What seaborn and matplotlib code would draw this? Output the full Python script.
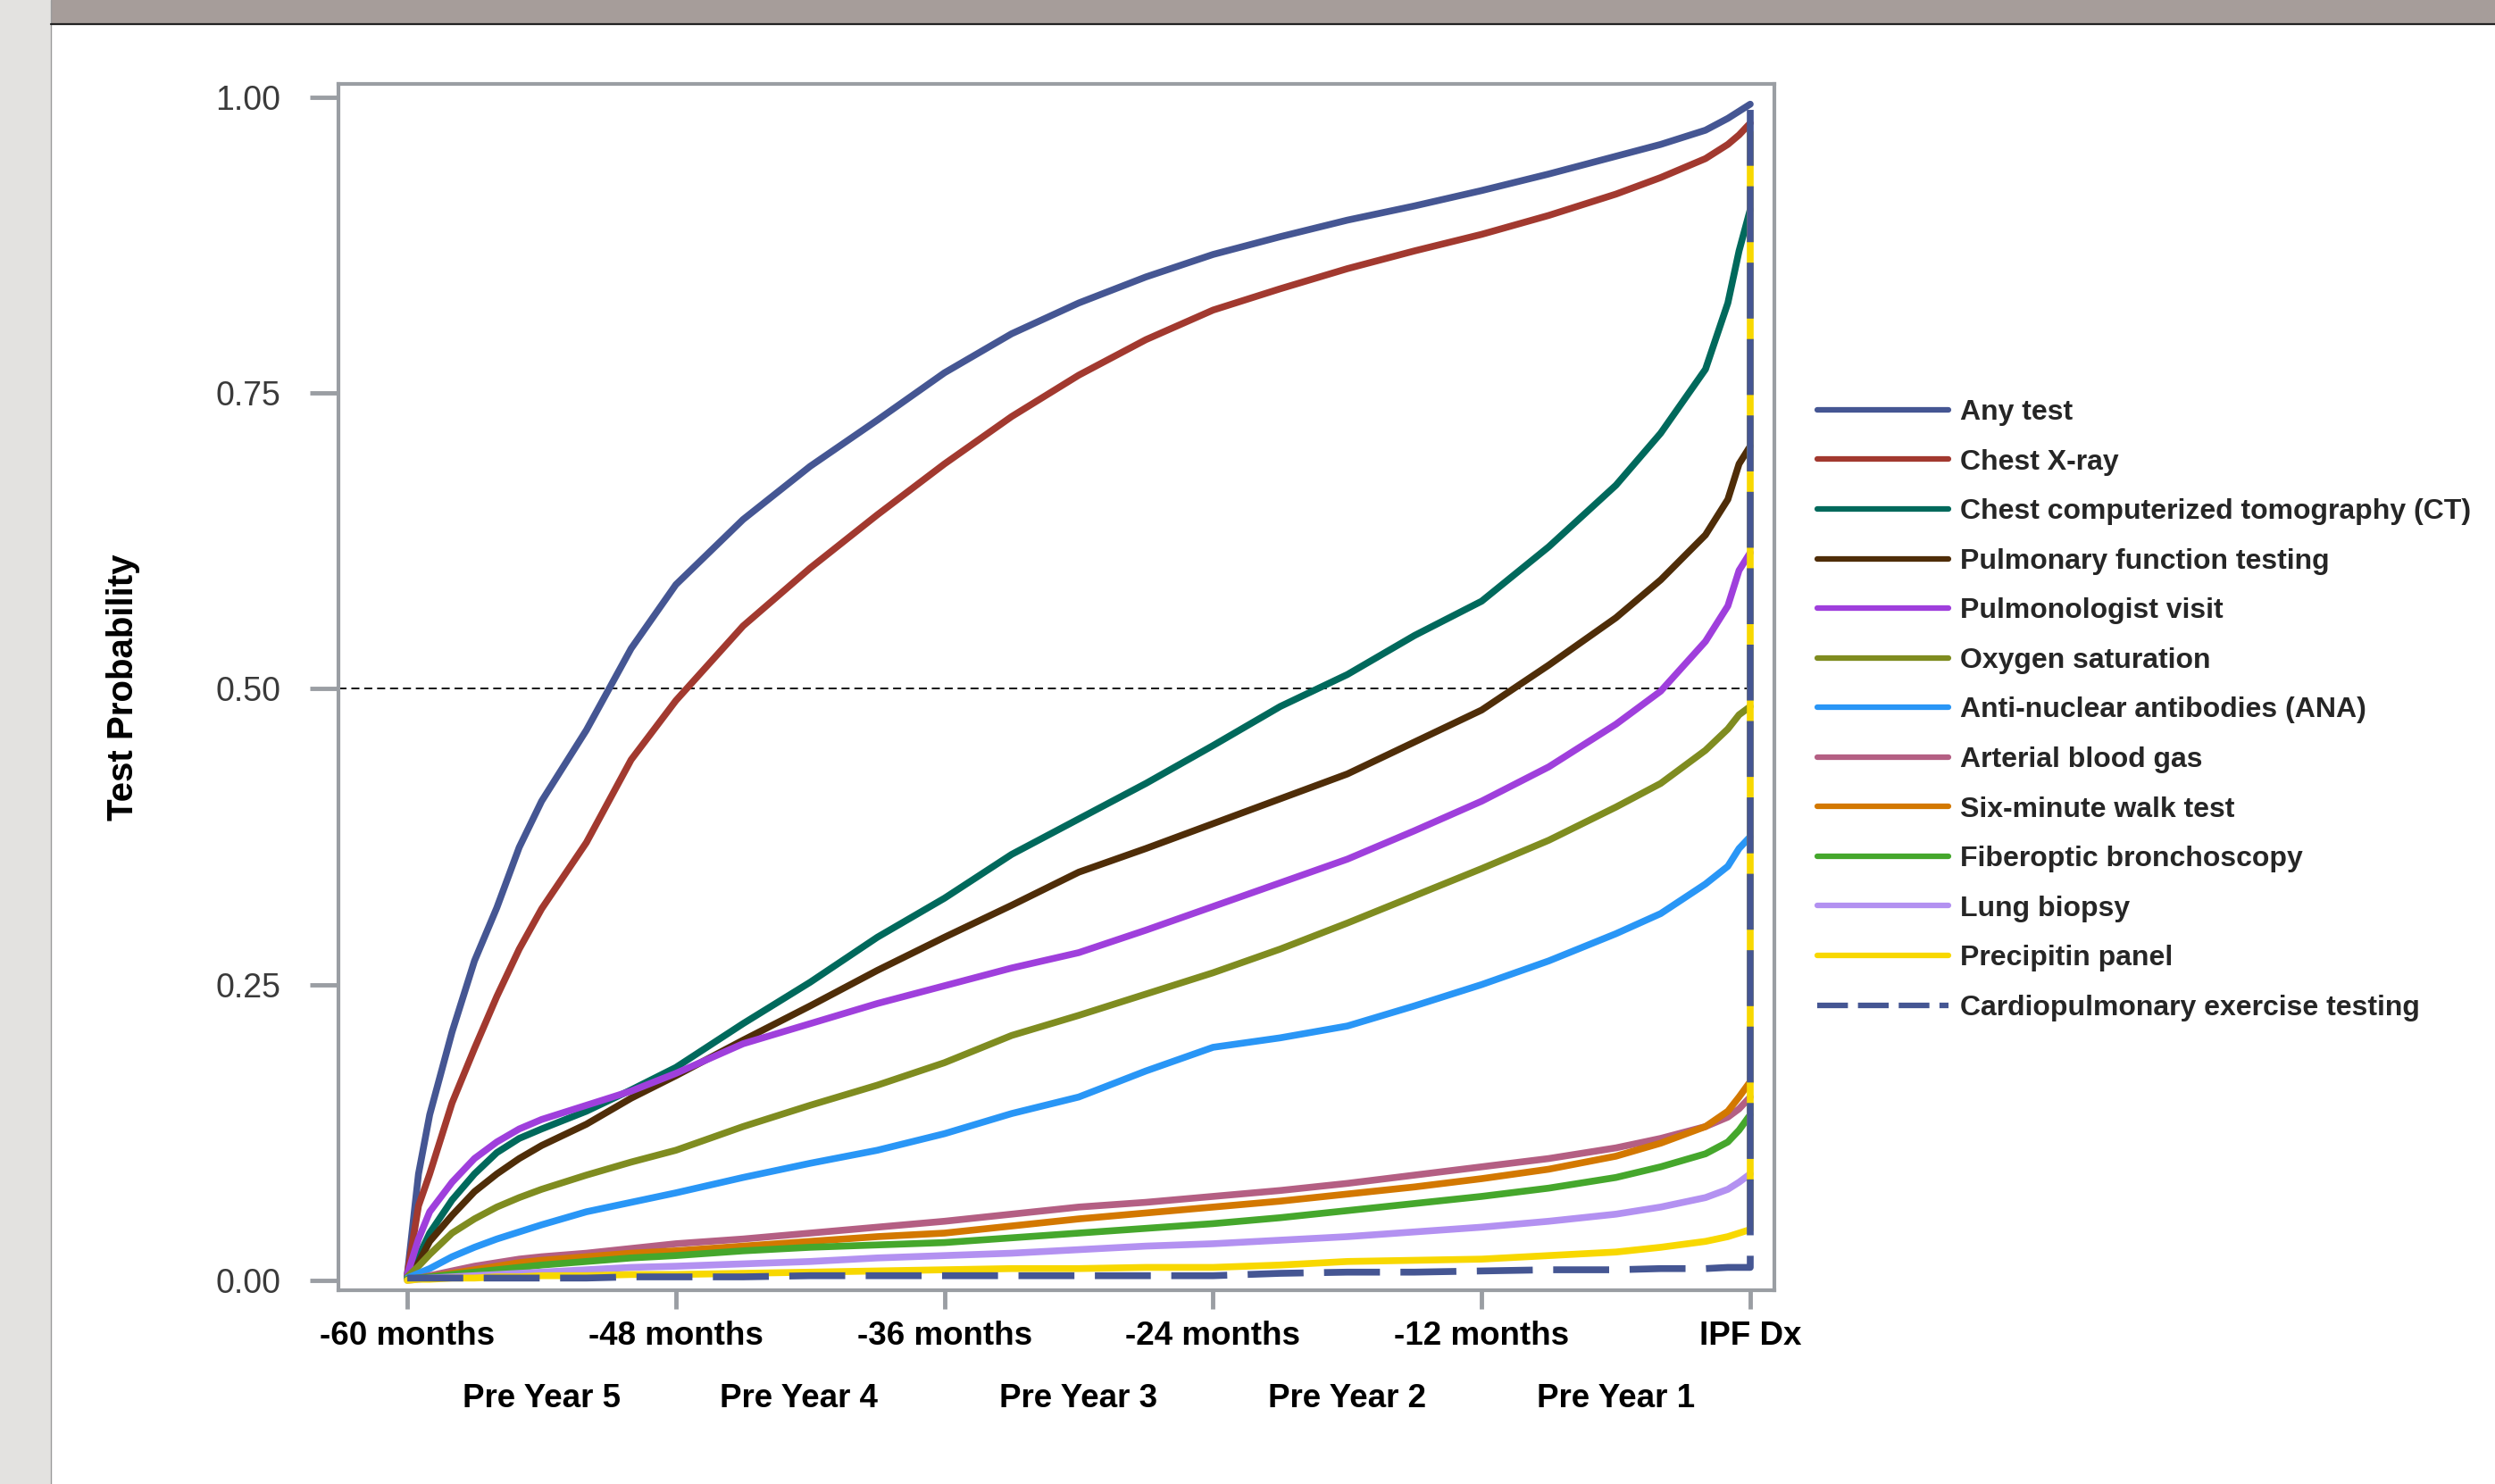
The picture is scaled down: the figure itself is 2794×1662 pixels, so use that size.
import numpy as np
import pandas as pd
import matplotlib
matplotlib.use("Agg")
import matplotlib.pyplot as plt
from matplotlib.lines import Line2D
from matplotlib.patches import Rectangle
import seaborn as sns

# months before IPF diagnosis (shared grid for all curves)
months = [-60, -59.5, -59, -58, -57, -56, -55, -54, -52, -50, -48, -45, -42, -39, -36,
          -33, -30, -27, -24, -21, -18, -15, -12, -9, -6, -4, -2, -1, -0.5, 0]

any_test = [0.005, 0.09, 0.14, 0.21, 0.27, 0.315, 0.366, 0.405, 0.465, 0.534, 0.588, 0.643, 0.688, 0.727, 0.767,
            0.80, 0.826, 0.848, 0.867, 0.882, 0.896, 0.908, 0.921, 0.935, 0.95, 0.96, 0.972, 0.982, 0.988, 0.994]
chest_xray = [0.005, 0.063, 0.09, 0.15, 0.196, 0.24, 0.28, 0.314, 0.37, 0.44, 0.49, 0.553, 0.602, 0.647, 0.69,
              0.73, 0.765, 0.795, 0.82, 0.838, 0.855, 0.87, 0.884, 0.9, 0.918, 0.932, 0.948, 0.96, 0.968, 0.978]
chest_ct = [0.003, 0.02, 0.04, 0.068, 0.09, 0.108, 0.12, 0.128, 0.143, 0.161, 0.18, 0.217, 0.252, 0.29, 0.323,
            0.36, 0.39, 0.42, 0.452, 0.485, 0.512, 0.545, 0.574, 0.62, 0.672, 0.716, 0.77, 0.826, 0.87, 0.905]
pft = [0.003, 0.015, 0.033, 0.055, 0.075, 0.09, 0.103, 0.114, 0.132, 0.154, 0.173, 0.203, 0.232, 0.262, 0.29,
       0.317, 0.345, 0.365, 0.386, 0.407, 0.428, 0.455, 0.482, 0.52, 0.56, 0.592, 0.63, 0.66, 0.69, 0.705]
pulm_visit = [0.005, 0.035, 0.058, 0.083, 0.103, 0.117, 0.128, 0.136, 0.148, 0.16, 0.175, 0.2, 0.217, 0.234, 0.249,
              0.264, 0.277, 0.296, 0.316, 0.336, 0.356, 0.38, 0.405, 0.434, 0.47, 0.498, 0.54, 0.57, 0.6, 0.615]
oxygen_sat = [0.003, 0.012, 0.022, 0.04, 0.052, 0.062, 0.07, 0.077, 0.089, 0.1, 0.11, 0.13, 0.148, 0.165, 0.184,
              0.207, 0.224, 0.242, 0.26, 0.28, 0.302, 0.325, 0.348, 0.372, 0.4, 0.42, 0.448, 0.466, 0.478, 0.485]
ana = [0.002, 0.006, 0.01, 0.02, 0.028, 0.035, 0.041, 0.047, 0.058, 0.066, 0.074, 0.087, 0.099, 0.11, 0.124,
       0.141, 0.155, 0.177, 0.197, 0.205, 0.215, 0.232, 0.25, 0.27, 0.293, 0.31, 0.335, 0.35, 0.365, 0.375]
abg = [0.001, 0.002, 0.004, 0.008, 0.012, 0.015, 0.018, 0.02, 0.023, 0.027, 0.031, 0.035, 0.04, 0.045, 0.05,
       0.056, 0.062, 0.066, 0.071, 0.076, 0.082, 0.089, 0.096, 0.103, 0.112, 0.12, 0.13, 0.138, 0.145, 0.155]
walk_test = [0.001, 0.002, 0.003, 0.006, 0.009, 0.012, 0.015, 0.017, 0.02, 0.023, 0.025, 0.029, 0.033, 0.037, 0.04,
             0.046, 0.052, 0.057, 0.062, 0.067, 0.073, 0.079, 0.086, 0.094, 0.105, 0.116, 0.13, 0.143, 0.155, 0.168]
bronch = [0.001, 0.002, 0.003, 0.005, 0.007, 0.009, 0.011, 0.013, 0.016, 0.019, 0.021, 0.025, 0.028, 0.03, 0.032,
          0.036, 0.04, 0.044, 0.048, 0.053, 0.059, 0.065, 0.071, 0.078, 0.087, 0.096, 0.107, 0.117, 0.127, 0.14]
biopsy = [0.0, 0.001, 0.002, 0.003, 0.004, 0.005, 0.006, 0.007, 0.009, 0.011, 0.012, 0.014, 0.016, 0.019, 0.021,
          0.023, 0.026, 0.029, 0.031, 0.034, 0.037, 0.041, 0.045, 0.05, 0.056, 0.062, 0.07, 0.077, 0.083, 0.09]
precipitin = [0.0, 0.001, 0.001, 0.002, 0.002, 0.003, 0.003, 0.004, 0.004, 0.005, 0.005, 0.006, 0.007, 0.008, 0.009,
              0.01, 0.01, 0.011, 0.011, 0.013, 0.016, 0.017, 0.018, 0.021, 0.024, 0.028, 0.033, 0.037, 0.04, 0.043]
cpet = [0.002, 0.002, 0.002, 0.002, 0.002, 0.002, 0.002, 0.002, 0.002, 0.003, 0.003, 0.003, 0.004, 0.004, 0.004,
        0.004, 0.004, 0.004, 0.004, 0.006, 0.007, 0.007, 0.008, 0.009, 0.009, 0.01, 0.01, 0.011, 0.011, 0.011]

# final jump at diagnosis for the last two curves
precipitin_dx = 0.97
cpet_dx = 0.998

labels = ["Any test", "Chest X-ray", "Chest computerized tomography (CT)", "Pulmonary function testing",
          "Pulmonologist visit", "Oxygen saturation", "Anti-nuclear antibodies (ANA)", "Arterial blood gas",
          "Six-minute walk test", "Fiberoptic bronchoscopy", "Lung biopsy", "Precipitin panel",
          "Cardiopulmonary exercise testing"]
colors = ["#455693", "#a2392f", "#00695c", "#4f2d08", "#9f3fdc", "#7f8c20", "#2996f6", "#b45f83",
          "#d37800", "#45a72c", "#b391f1", "#f8d800", "#455693"]

series = [any_test, chest_xray, chest_ct, pft, pulm_visit, oxygen_sat, ana, abg, walk_test,
          bronch, biopsy, precipitin, cpet]

x_ticks = [-60, -48, -36, -24, -12, 0]
x_ticklabels = ["-60 months", "-48 months", "-36 months", "-24 months", "-12 months", "IPF Dx"]
year_pos = [-54, -42.5, -30, -18, -6]
year_labels = ["Pre Year 5", "Pre Year 4", "Pre Year 3", "Pre Year 2", "Pre Year 1"]

rows = []
for name, vals in zip(labels, series):
    for m, v in zip(months, vals):
        rows.append((name, m, v))
rows.append(("Precipitin panel", 0, precipitin_dx))
rows.append(("Cardiopulmonary exercise testing", 0, cpet_dx))
df = pd.DataFrame(rows, columns=["test", "month", "prob"])

sns.set_theme(style="white")
plt.rcParams["font.family"] = ["Liberation Sans", "DejaVu Sans"]

fig = plt.figure(figsize=(27.94, 16.62), dpi=100)
fig.patch.set_facecolor("white")

# window chrome: grey strip on the left and band on top
fig.patches.append(Rectangle((0, 0), 0.0204, 1, transform=fig.transFigure, facecolor="#e3e2e0",
                             edgecolor="none", zorder=0))
fig.add_artist(Line2D([0.0204, 0.0204], [0, 1], transform=fig.transFigure, color="#9a9a9a", lw=1))
fig.patches.append(Rectangle((0.0204, 0.9835), 0.98, 0.0165, transform=fig.transFigure, facecolor="#a69d9a",
                             edgecolor="none", zorder=0))
fig.add_artist(Line2D([0.0204, 1], [0.9835, 0.9835], transform=fig.transFigure, color="#222222", lw=1.6))

ax = fig.add_axes([0.1358, 0.1308, 0.5753, 0.8124])

ax.hlines(0.5, -63.06, 0.2, colors="black", linewidth=1.3, linestyles=(0, (5, 3)), zorder=1)

palette = dict(zip(labels, colors))
dash_map = {name: "" for name in labels}
dash_map["Cardiopulmonary exercise testing"] = (8.2, 3.0)
sns.lineplot(data=df, x="month", y="prob", hue="test", style="test", hue_order=labels, style_order=labels,
             palette=palette, dashes=dash_map, estimator=None, sort=False, linewidth=5.5,
             legend=False, ax=ax, zorder=3)

ax.set_xlim(-63.06, 1.07)
ax.set_ylim(-0.008, 1.0108)
ax.set_xlabel("")
ax.set_ylabel("Test Probability", fontsize=29, fontweight="bold", color="black")
ax.yaxis.set_label_coords(-0.1386, 0.5)

ax.set_yticks([0, 0.25, 0.5, 0.75, 1.0])
ax.set_yticklabels(["0.00", "0.25", "0.50", "0.75", "1.00"])
ax.set_xticks(x_ticks)
ax.set_xticklabels(x_ticklabels, fontsize=26.5, fontweight="bold", color="black")
ax.set_xticks(year_pos, minor=True)
ax.set_xticklabels(year_labels, minor=True, fontsize=26.5, fontweight="bold", color="black")

for s in ax.spines.values():
    s.set_visible(True)
    s.set_color("#9a9ea3")
    s.set_linewidth(3)

ax.tick_params(axis="y", which="major", direction="out", length=23, width=3.5, color="#9a9ea3",
               labelsize=27, labelcolor="#3a3a3a", pad=24, left=True)
ax.tick_params(axis="x", which="major", direction="out", length=15, width=3.5, color="#9a9ea3",
               pad=10, bottom=True)
ax.tick_params(axis="x", which="minor", length=0, pad=75, bottom=True)

handles = []
for name, c in zip(labels, colors):
    if name == "Cardiopulmonary exercise testing":
        handles.append(Line2D([], [], color=c, lw=4.5, dashes=(5.5, 1.8)))
    else:
        handles.append(Line2D([], [], color=c, lw=4.5))
fig.legend(handles, labels, loc="upper left", bbox_to_anchor=(0.7283, 0.731), frameon=False,
           prop={"weight": "bold", "size": 23}, handlelength=4.6, handletextpad=0.4,
           labelspacing=0.8, borderpad=0, borderaxespad=0)

fig.savefig("out.png", dpi=100, facecolor="white")
